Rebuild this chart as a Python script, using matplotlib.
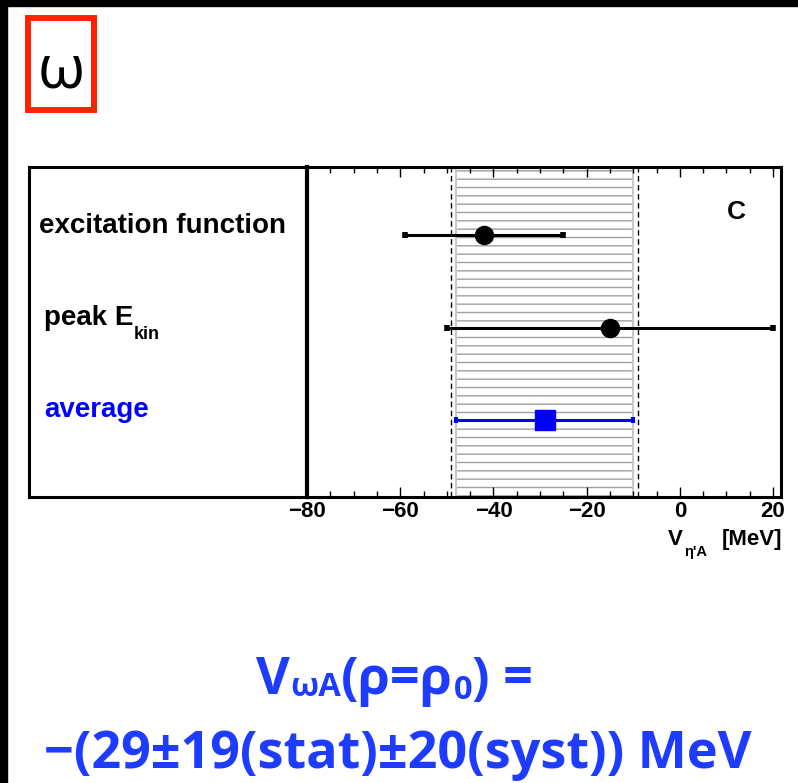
import numpy as np
import matplotlib.pyplot as plt
from matplotlib.patches import Rectangle
from matplotlib.ticker import MultipleLocator

# omega-nucleus potential, carbon target (MeV)
methods = ["excitation function", "peak E", "average"]
values = [-42, -15, -29]
err_lo = [17, 35, 19]
err_hi = [17, 35, 19]
syst = 20
rows = [1, 2, 3]
xticks = [-80, -60, -40, -20, 0, 20]

W, H = 798, 783
fig = plt.figure(figsize=(W / 100, H / 100), dpi=100)
fig.patch.set_facecolor("white")


def box(x0, y0, x1, y1):
    # axes rectangle from pixel corners (origin top-left)
    return [x0 / W, 1 - y1 / H, (x1 - x0) / W, (y1 - y0) / H]


def ptext(x, y, s, **kw):
    # text placed at pixel position (origin top-left)
    return fig.text(x / W, 1 - y / H, s, **kw)


# slide edges
fig.patches.append(Rectangle((0, 1 - 6 / H), 1, 6 / H, transform=fig.transFigure,
                             color="black", zorder=0))
fig.patches.append(Rectangle((0, 0), 7 / W, 1, transform=fig.transFigure,
                             color="black", zorder=0))

# red framed omega
fig.patches.append(Rectangle((28 / W, 1 - 110 / H), 66 / W, 92 / H,
                             transform=fig.transFigure, fill=False,
                             edgecolor="#ff2200", lw=4.3))
ptext(61, 88, "ω", ha="center", va="baseline", fontsize=44,
      family=["Open Sans", "DejaVu Sans"], color="black")

ax_lab = fig.add_axes(box(29, 167, 307, 497))
ax = fig.add_axes(box(307, 167, 781, 497), sharey=ax_lab)

ax.set_xlim(-80, 21.7)
ax.set_ylim(3.83, 0.265)

# stat band with hatch, syst limits dashed
c = values[2]
ax.axvspan(c - err_lo[2], c + err_hi[2], facecolor="none", edgecolor="#a0a0a0",
           hatch="--", lw=0, zorder=1)
for xe in (c - err_lo[2], c + err_hi[2]):
    ax.axvline(xe, color="#c8c8c8", lw=1.5, zorder=1)
for xs in (c - syst, c + syst):
    ax.axvline(xs, color="black", lw=1.0, ls=(0, (4, 2.5)), zorder=2)

ax.errorbar(values[:2], rows[:2], xerr=[err_lo[:2], err_hi[:2]], fmt="o",
            color="black", ms=13, elinewidth=2.2, capsize=2, capthick=4, zorder=4)
ax.errorbar(values[2:], rows[2:], xerr=[err_lo[2:], err_hi[2:]], fmt="s",
            color="#0000ff", ms=14, elinewidth=2.2, capsize=2, capthick=3, zorder=4)

ax.text(10.1, 0.827, "C", fontsize=19, fontweight="bold",
        family="Liberation Sans", ha="left", va="baseline")

ax.set_xticks(xticks)
ax.set_xticklabels([f"{t}".replace("-", "\u2212") for t in xticks])
ax.xaxis.set_minor_locator(MultipleLocator(5))
ax.tick_params(axis="x", which="both", direction="in", top=True, bottom=True,
               width=1.0, labelsize=16, pad=3)
ax.tick_params(axis="x", which="major", length=7)
ax.tick_params(axis="x", which="minor", length=4)
ax.tick_params(axis="y", which="both", left=False, labelleft=False)
for lab in ax.get_xticklabels():
    lab.set_fontweight("bold")
    lab.set_family("Liberation Sans")
for sp in ax.spines.values():
    sp.set_linewidth(2.2)
ax.spines["left"].set_linewidth(3.0)

ax_lab.tick_params(axis="both", which="both", left=False, labelleft=False,
                   bottom=False, labelbottom=False)
for sp in ax_lab.spines.values():
    sp.set_linewidth(2.2)

# method labels
lab_kw = dict(fontsize=20, fontweight="bold", family="Liberation Sans", va="baseline")
ptext(39, 233, methods[0], **lab_kw)
ptext(44, 325, methods[1], **lab_kw)
ptext(134, 339, "kin", fontsize=13, fontweight="bold", family="Liberation Sans",
      va="baseline")
ptext(44, 417, methods[2], color="#0000ff", **lab_kw)

# axis title
ptext(668, 545, "V", fontsize=16, fontweight="bold", family="Liberation Sans",
      va="baseline")
ptext(684, 556, "η'A", fontsize=10.5, fontweight="bold", family="Liberation Sans",
      va="baseline")
ptext(722, 545, "[MeV]", fontsize=16, fontweight="bold", family="Liberation Sans",
      va="baseline")

# result written under the plot
blue = "#1e3cff"
big = dict(fontsize=37.5, fontweight="bold", family=["Open Sans", "DejaVu Sans"],
           color=blue, va="baseline")
small = dict(big, fontsize=23.5)


def chain(prev, s, base, gap, style):
    return ax_lab.annotate(s, xy=(1, H - base), xycoords=(prev, "figure pixels"),
                           xytext=(gap, 0), textcoords="offset pixels",
                           annotation_clip=False, **style)


t = ptext(256, 694, "V", **big)
t = chain(t, "ωA", 696, 0, small)
t = chain(t, "(ρ=ρ", 694, 0, big)
t = chain(t, "0", 699, 1, small)
t = chain(t, ") =", 694, 0, big)

ptext(398, 768, "\u2212(29\u00b119(stat)\u00b120(syst)) MeV", ha="center", **big)

fig.savefig("out.png", dpi=100)
